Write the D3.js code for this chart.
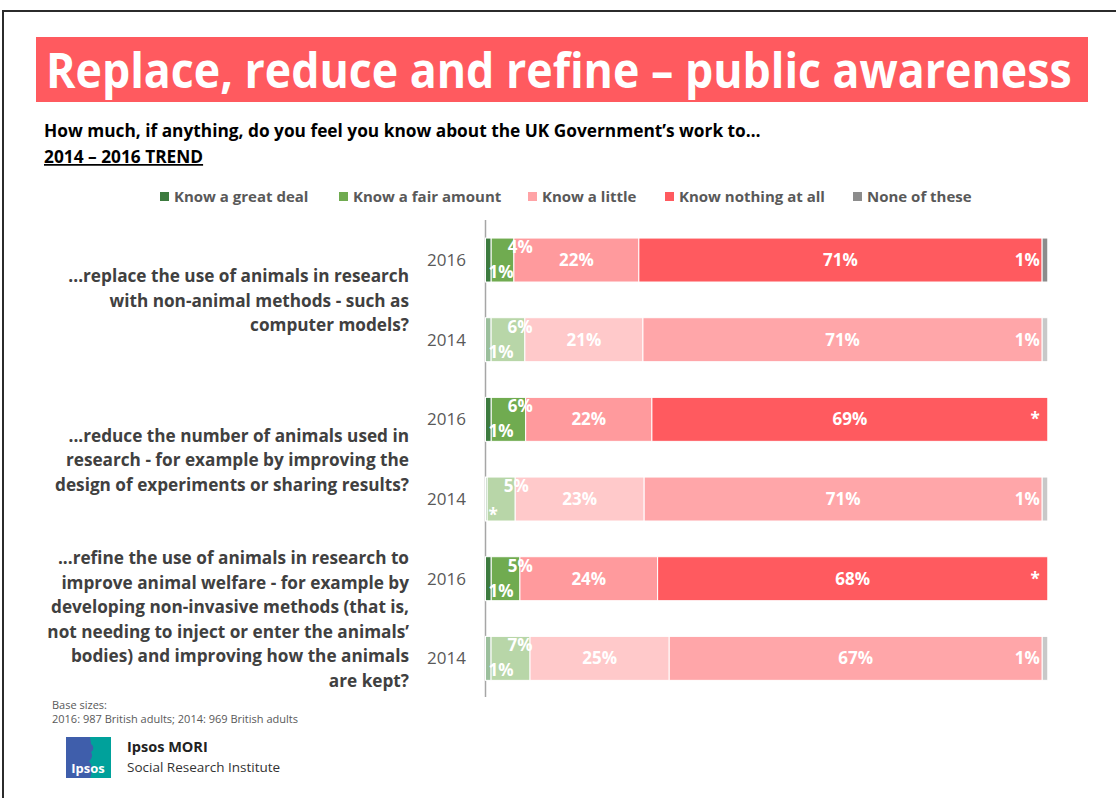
<!DOCTYPE html>
<html>
<head>
<meta charset="utf-8">
<script src="https://d3js.org/d3.v7.min.js"></script>
<style>
  body { margin: 0; background: #fff; }
  text { font-family: "Open Sans", "Noto Sans", sans-serif; }
</style>
</head>
<body>
<div id="chart"></div>
<script>
// Data
const categories = ["Know a great deal", "Know a fair amount", "Know a little", "Know nothing at all", "None of these"];
const years = ["2016", "2014"];
const questions = [
  ["...replace the use of animals in research", "with non-animal methods - such as", "computer models?"],
  ["...reduce the number of animals used in", "research - for example by improving the", "design of experiments or sharing results?"],
  ["...refine the use of animals in research to", "improve animal welfare - for example by", "developing non-invasive methods (that is,", "not needing to inject or enter the animals\u2019", "bodies) and improving how the animals", "are kept?"]
];
// values per question, per year (2016, 2014); 0.3 / 0 = "*" (less than 0.5%)
const replace2016 = [1, 4, 22, 71, 1];
const replace2014 = [1, 6, 21, 71, 1];
const reduce2016 = [1, 6, 22, 69, 0];
const reduce2014 = [0.3, 5, 23, 71, 1];
const refine2016 = [1, 5, 24, 68, 0];
const refine2014 = [1, 7, 25, 67, 1];

const colors2016 = ["#3c7a3e", "#70ab50", "#ff9a9d", "#ff5a5f", "#8c8c8c"];
const colors2014 = ["#9bbf9c", "#b8d6a8", "#ffc9ca", "#ffa6a9", "#c8c8c8"];
const legendColors = ["#3c7a3e", "#70ab50", "#ffa3a6", "#ff5a5f", "#8c8c8c"];

const rows = [
  { q: 0, year: "2016", values: replace2016 },
  { q: 0, year: "2014", values: replace2014 },
  { q: 1, year: "2016", values: reduce2016 },
  { q: 1, year: "2014", values: reduce2014 },
  { q: 2, year: "2016", values: refine2016 },
  { q: 2, year: "2014", values: refine2014 }
];
rows.forEach((r, i) => r.key = "r" + i);

const W = 1116, H = 798;
const svg = d3.select("#chart").append("svg")
  .attr("width", W).attr("height", H);

// frame
svg.append("path")
  .attr("d", "M3,798 L3,11 L1116,11")
  .attr("fill", "none").attr("stroke", "#2b2b2b").attr("stroke-width", 2);

// title bar
svg.append("rect")
  .attr("x", 36).attr("y", 37).attr("width", 1052).attr("height", 65)
  .attr("fill", "#ff5a5f");
const title = svg.append("text")
  .attr("x", 0).attr("y", 0)
  .attr("fill", "#fff").attr("font-weight", 700).attr("font-size", 48)
  .text("Replace, reduce and refine \u2013 public awareness");
// squeeze the title horizontally to the width it has in the slide
const tw = title.node().getComputedTextLength();
title.attr("transform", `translate(46,88) scale(${1026 / tw},1)`);

// subtitle
svg.append("text")
  .attr("x", 44).attr("y", 137)
  .attr("font-weight", 700).attr("font-size", 17.3).attr("fill", "#000")
  .text("How much, if anything, do you feel you know about the UK Government\u2019s work to\u2026");
svg.append("text")
  .attr("x", 44).attr("y", 163)
  .attr("font-weight", 700).attr("font-size", 17.3).attr("fill", "#000")
  .attr("text-decoration", "underline")
  .text("2014 \u2013 2016 TREND");

// legend
const legendX = [160, 339, 528, 665, 853];
const legend = svg.append("g").selectAll("g")
  .data(categories).join("g")
  .attr("transform", (d, i) => `translate(${legendX[i]},197)`);
legend.append("rect")
  .attr("x", 0).attr("y", -5).attr("width", 9).attr("height", 9)
  .attr("fill", (d, i) => legendColors[i]);
legend.append("text")
  .attr("x", 14).attr("y", 5)
  .attr("font-size", 15).attr("font-weight", 700).attr("fill", "#595959")
  .text(d => d);

// scales
const x = d3.scaleLinear().domain([0, 100]).range([485.5, 1047.8]);
const y = d3.scaleBand()
  .domain(rows.map(r => r.key))
  .range([220.2, 698.2])
  .paddingInner(0.448)
  .paddingOuter(0.224);

// axis line
svg.append("line")
  .attr("x1", x(0)).attr("x2", x(0))
  .attr("y1", 220).attr("y2", 697)
  .attr("stroke", "#a6a6a6").attr("stroke-width", 1.5);

// stacked segments (normalised to 100%)
const segs = [];
rows.forEach(r => {
  const total = d3.sum(r.values);
  let acc = 0;
  r.values.forEach((v, i) => {
    const p = v / total * 100;
    segs.push({ row: r, i, v, x0: acc, x1: acc + p });
    acc += p;
  });
});

const bars = svg.append("g");
bars.selectAll("rect")
  .data(segs.filter(s => s.v > 0)).join("rect")
  .attr("x", s => x(s.x0))
  .attr("y", s => y(s.row.key))
  .attr("width", s => x(s.x1) - x(s.x0))
  .attr("height", y.bandwidth())
  .attr("fill", s => (s.row.year === "2016" ? colors2016 : colors2014)[s.i])
  .attr("stroke", "#fff").attr("stroke-width", 1);

// segment labels
const lab = s => s.v < 0.5 ? "*" : Math.round(s.v) + "%";
const labels = svg.append("g")
  .attr("fill", "#fff").attr("font-weight", 700).attr("font-size", 17);
labels.selectAll("text")
  .data(segs).join("text")
  .attr("x", s => {
    if (s.i === 0) return x(0) + 3;
    if (s.i === 1) return x(s.x0) + 29;
    if (s.i === 4) return x(100) - 8;
    return (x(s.x0) + x(s.x1)) / 2;
  })
  .attr("y", s => {
    const top = y(s.row.key), bw = y.bandwidth();
    if (s.i === 0) return top + bw - 4 + (s.v < 0.5 ? 4 : 0);
    if (s.i === 1) return top + 15;
    return top + bw / 2 + 6;
  })
  .attr("text-anchor", s => s.i === 0 ? "start" : s.i === 4 ? "end" : "middle")
  .text(lab);

// year labels
svg.append("g").selectAll("text")
  .data(rows).join("text")
  .attr("x", 466)
  .attr("y", r => y(r.key) + y.bandwidth() / 2 + 6)
  .attr("text-anchor", "end")
  .attr("font-size", 17).attr("fill", "#595959")
  .text(r => r.year);

// question labels
const qg = svg.append("g")
  .attr("font-size", 17.2).attr("font-weight", 700).attr("fill", "#404040")
  .attr("text-anchor", "end");
questions.forEach((lines, qi) => {
  const r0 = rows[qi * 2], r1 = rows[qi * 2 + 1];
  const cy = (y(r0.key) + y(r1.key)) / 2 + y.bandwidth() / 2 + 1;
  lines.forEach((t, j) => {
    qg.append("text")
      .attr("x", 409)
      .attr("y", cy + (j - (lines.length - 1) / 2) * 24.6 + 6)
      .text(t);
  });
});

// base sizes
const note = svg.append("g").attr("font-size", 11).attr("fill", "#595959");
note.append("text").attr("x", 52).attr("y", 709).text("Base sizes:");
note.append("text").attr("x", 52).attr("y", 723).text("2016: 987 British adults; 2014: 969 British adults");

// logo
const logo = svg.append("g").attr("transform", "translate(66,737)");
logo.append("rect").attr("width", 45).attr("height", 41).attr("fill", "#3f5eab");
logo.append("path")
  .attr("d", "M24,0 L45,0 L45,41 L24,41 C27,34 26,28 23,24 C26,22 27,18 25,15 C28,13 28,9 25,7 C25,4 24,2 24,0 Z")
  .attr("fill", "#00a19b");
logo.append("text")
  .attr("x", 22).attr("y", 36).attr("text-anchor", "middle")
  .attr("fill", "#fff").attr("font-weight", 700).attr("font-size", 13)
  .text("Ipsos");
svg.append("text").attr("x", 127).attr("y", 752)
  .attr("font-size", 14.5).attr("font-weight", 700).attr("fill", "#222")
  .text("Ipsos MORI");
svg.append("text").attr("x", 127).attr("y", 772)
  .attr("font-size", 13.5).attr("fill", "#333")
  .text("Social Research Institute");
</script>
</body>
</html>
